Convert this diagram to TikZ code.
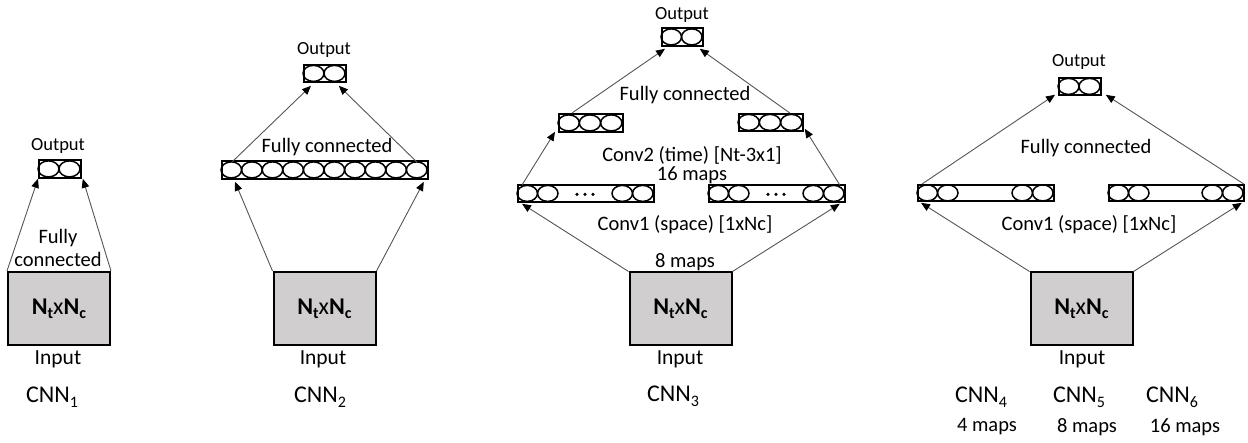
\documentclass[tikz,border=0pt]{standalone}
\usepackage{fontspec}
\setmainfont{Carlito}
\usetikzlibrary{arrows.meta,calc}
\definecolor{inputgray}{HTML}{D0CECE}
\definecolor{arrowgray}{HTML}{555555}
\newcommand{\ntnc}{{\fontsize{24}{28}\selectfont\bfseries N\raisebox{-4pt}{\fontsize{16}{18}\selectfont t}{\mdseries x}N\raisebox{-4pt}{\fontsize{16}{18}\selectfont c}}}
\newcommand{\cnnlbl}[1]{CNN\raisebox{-5pt}{\fontsize{16}{18}\selectfont #1}}
\newcommand{\cellrow}[3]{% node, cell width, offsets
  \foreach \o in {#3} {\draw[cellline] ($(#1.west)+(\o+#2/2,0)$) ellipse [x radius=#2/2*1pt, y radius=8pt];}}
\tikzset{
  inbox/.style={draw=black, line width=2pt, fill=inputgray, minimum width=102pt, minimum height=73pt, inner sep=0pt},
  barbox/.style={draw=black, line width=1.8pt, inner sep=0pt, anchor=north west},
  cellline/.style={draw=black, line width=1.5pt},
  arr/.style={draw=arrowgray, line width=0.9pt, -{Triangle[length=9pt,width=7.5pt,color=black]}},
  lbl/.style={font=\fontsize{20.5}{23}\selectfont, inner sep=0pt, align=center},
  outlbl/.style={font=\fontsize{18.5}{22}\selectfont, inner sep=0pt},
  inlbl/.style={font=\fontsize{21.5}{24}\selectfont, inner sep=0pt},
  cnn/.style={font=\fontsize{24}{28}\selectfont, inner sep=0pt},
  dotsym/.style={fill=black, circle, inner sep=0pt, minimum size=3.6pt},
}
\begin{document}
\begin{tikzpicture}[x=1pt,y=-1pt]
\useasboundingbox (0,0) rectangle (1248,443);

% ---------------- CNN1 ----------------
\node[inbox] (in1) at (59,308.5) {\ntnc};
\node[barbox, minimum width=42pt, minimum height=18pt] (out1) at (38,159) {};
\cellrow{out1}{21}{0,21}
\node[outlbl] (o1t) at (58,146) {Output};
\node[lbl] (fc1t) at (58,248) {Fully\\connected};
\node[inlbl] (i1t) at (58,359) {Input};
\node[cnn] (c1) at (52,397) {\cnnlbl{1}};
\draw[arr] (in1.north west) -- (out1.south west);
\draw[arr] (in1.north east) -- ($(out1.south east)+(1,0)$);

% ---------------- CNN2 ----------------
\node[inbox] (in2) at (324.5,308.5) {\ntnc};
\node[barbox, minimum width=206pt, minimum height=18pt] (fc2) at (221,160) {};
\cellrow{fc2}{20.6}{0,20.6,41.2,61.8,82.4,103,123.6,144.2,164.8,185.4}
\node[barbox, minimum width=42pt, minimum height=17pt] (out2) at (303,64) {};
\cellrow{out2}{21}{0,21}
\node[outlbl] (o2t) at (324,50) {Output};
\node[lbl] (fc2t) at (327,147) {Fully connected};
\node[inlbl] (i2t) at (323,359) {Input};
\node[cnn] (c2) at (320,397) {\cnnlbl{2}};
\draw[arr] (in2.north west) -- ($(fc2.south west)+(14,2)$);
\draw[arr] (in2.north east) -- ($(fc2.south east)+(-5,2)$);
\draw[arr] ($(fc2.north west)+(11,2)$) -- ($(out2.south west)+(8,3)$);
\draw[arr] ($(fc2.north east)+(-12,2)$) -- ($(out2.south east)+(-8,3)$);

% ---------------- CNN3 ----------------
\node[inbox] (in3) at (680.5,309) {\ntnc};
\node[barbox, minimum width=41pt, minimum height=18pt] (out3) at (661,27) {};
\cellrow{out3}{20.5}{0,20.5}
\node[barbox, minimum width=64pt, minimum height=18pt] (s3l) at (558,113) {};
\cellrow{s3l}{21.3}{0,21.3,42.6}
\node[barbox, minimum width=64pt, minimum height=17pt] (s3r) at (738,113) {};
\cellrow{s3r}{21.3}{0,21.3,42.6}
\node[barbox, minimum width=136pt, minimum height=17pt] (b3l) at (517,184) {};
\cellrow{b3l}{20.5}{0,20.5,95,115.5}
\foreach \d in {60,68,76} {\node[dotsym] at ($(b3l.west)+(\d,1)$) {};}
\node[barbox, minimum width=136pt, minimum height=17pt] (b3r) at (708,184) {};
\cellrow{b3r}{20.5}{0,20.5,95,115.5}
\foreach \d in {60,68,76} {\node[dotsym] at ($(b3r.west)+(\d,1)$) {};}
\node[outlbl] (o3t) at (682,15) {Output};
\node[lbl] (fc3t) at (685,95) {Fully connected};
\node[lbl, font=\fontsize{20.5}{18.5}\selectfont] (cv2t) at (692,165) {Conv2 (time) [Nt-3x1]\\16 maps};
\node[lbl] (cv1t) at (685,225) {Conv1 (space) [1xNc]};
\node[lbl] (m8t) at (685,262) {8 maps};
\node[inlbl] (i3t) at (680,359) {Input};
\node[cnn] (c3) at (673,396) {\cnnlbl{3}};
\draw[arr] ($(s3l.north west)+(14,0)$) -- ($(out3.south west)+(4,2)$);
\draw[arr] ($(s3r.north east)+(-14,0)$) -- ($(out3.south east)+(-4,2)$);
\draw[arr] ($(b3l.north west)+(5,1)$) -- ($(s3l.south west)+(-3,-1)$);
\draw[arr] ($(b3r.north east)+(-6,1)$) -- ($(s3r.south east)+(1,-3)$);
\draw[arr] (in3.north west) -- ($(b3l.south west)+(5,1)$);
\draw[arr] (in3.north east) -- ($(b3r.south east)+(-6,1)$);

% ---------------- CNN4-6 ----------------
\node[inbox] (in4) at (1081.5,309) {\ntnc};
\node[barbox, minimum width=42pt, minimum height=17pt] (out4) at (1058,77) {};
\cellrow{out4}{21}{0,21}
\node[barbox, minimum width=136pt, minimum height=16pt] (b4l) at (917,184) {};
\cellrow{b4l}{20.5}{0,20.5,95,115.5}
\node[barbox, minimum width=135pt, minimum height=16pt] (b4r) at (1108,184) {};
\cellrow{b4r}{20.5}{0,20.5,94,114.5}
\node[outlbl] (o4t) at (1079,62) {Output};
\node[lbl] (fc4t) at (1086,148) {Fully connected};
\node[lbl] (cv4t) at (1089,225) {Conv1 (space) [1xNc]};
\node[inlbl] (i4t) at (1082,359) {Input};
\node[cnn] (c4) at (981,397) {\cnnlbl{4}};
\node[cnn] (c5) at (1079,397) {\cnnlbl{5}};
\node[cnn] (c6) at (1172,397) {\cnnlbl{6}};
\node[lbl] (m4) at (987,427) {4 maps};
\node[lbl] (m5) at (1087,427) {8 maps};
\node[lbl] (m6) at (1185,427) {16 maps};
\draw[arr] ($(b4l.north west)+(5,0)$) -- ($(out4.south west)+(-3,-1)$);
\draw[arr] ($(b4r.north east)+(-1,0)$) -- ($(out4.south east)+(4,-1)$);
\draw[arr] (in4.north west) -- ($(b4l.south west)+(4,1)$);
\draw[arr] (in4.north east) -- ($(b4r.south east)+(-3,1)$);
\end{tikzpicture}
\end{document}
